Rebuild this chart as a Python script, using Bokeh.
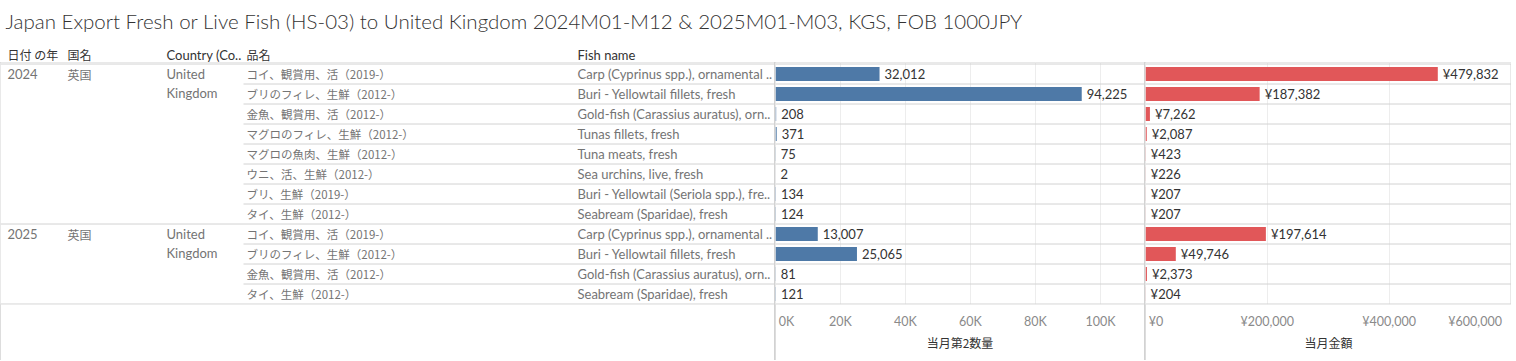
from bokeh.plotting import figure
from bokeh.layouts import row, column
from bokeh.models import Range1d, FixedTicker, ColumnDataSource
from bokeh.core.properties import value
from bokeh.embed import file_html
from bokeh.resources import INLINE

# ---------------- data ----------------
title_text = "Japan Export Fresh or Live Fish (HS-03) to United Kingdom 2024M01-M12 & 2025M01-M03, KGS, FOB 1000JPY"
header_labels = ["日付 の年", "国名", "Country (Co..", "品名", "Fish name"]
years = ["2024", "2025"]
group_sizes = [8, 4]
country_jp = "英国"
country_en = "United Kingdom"
items_jp = [
    "コイ、観賞用、活（2019-）",
    "ブリのフィレ、生鮮（2012-）",
    "金魚、観賞用、活（2012-）",
    "マグロのフィレ、生鮮（2012-）",
    "マグロの魚肉、生鮮（2012-）",
    "ウニ、活、生鮮（2012-）",
    "ブリ、生鮮（2019-）",
    "タイ、生鮮（2012-）",
    "コイ、観賞用、活（2019-）",
    "ブリのフィレ、生鮮（2012-）",
    "金魚、観賞用、活（2012-）",
    "タイ、生鮮（2012-）",
]
items_en = [
    "Carp (Cyprinus spp.), ornamental ..",
    "Buri - Yellowtail fillets, fresh",
    "Gold-fish (Carassius auratus), orn..",
    "Tunas fillets, fresh",
    "Tuna meats, fresh",
    "Sea urchins, live, fresh",
    "Buri - Yellowtail (Seriola spp.), fre..",
    "Seabream (Sparidae), fresh",
    "Carp (Cyprinus spp.), ornamental ..",
    "Buri - Yellowtail fillets, fresh",
    "Gold-fish (Carassius auratus), orn..",
    "Seabream (Sparidae), fresh",
]
quantity = [32012, 94225, 208, 371, 75, 2, 134, 124, 13007, 25065, 81, 121]
amount = [479832, 187382, 7262, 2087, 423, 226, 207, 207, 197614, 49746, 2373, 204]
qty_ticks = [0, 20000, 40000, 60000, 80000, 100000]
qty_tick_labels = ["0K", "20K", "40K", "60K", "80K", "100K"]
amt_ticks = [0, 200000, 400000, 600000]
amt_tick_labels = ["¥0", "¥200,000", "¥400,000", "¥600,000"]
qty_axis_title = "当月第2数量"
amt_axis_title = "当月金額"

# ---------------- styling / layout ----------------
LATIN = "Lato"
CJK = "Noto Sans CJK JP"
GRAY_TXT = "#747474"
DARK_TXT = "#333333"
LINE_C = "#d2d2d2"
GRID_C = "#ededed"
BLUE = "#4e79a7"
RED = "#e15759"

n = len(items_jp)
FRAME_H = 242
ROW_PX = 20.0
y_top = -1.5 / ROW_PX
y_bot = (FRAME_H - 1.5) / ROW_PX
BOTTOM = 56

centers = [i + 0.5 for i in range(n)]
bounds = [0]
for s in group_sizes:
    bounds.append(bounds[-1] + s)

NB = "\u00a0"


def base_fig(w, xr, with_axis=False):
    p = figure(width=w, frame_height=FRAME_H, x_range=xr,
               y_range=Range1d(y_bot, y_top),
               output_backend="svg", toolbar_location=None, title=None,
               x_axis_location="below" if with_axis else None,
               y_axis_location=None,
               min_border_left=0, min_border_right=0, min_border_top=0,
               min_border_bottom=BOTTOM)
    p.outline_line_color = None
    p.ygrid.grid_line_color = None
    if not with_axis:
        p.xgrid.grid_line_color = None
    p.background_fill_color = "#ffffff"
    p.border_fill_color = "#ffffff"
    return p


# ---------- title + headers ----------
TBL_W = 774
QTY_W = 369
AMT_W = 366
TW = TBL_W + QTY_W + AMT_W + 2
TH = 62
tp = figure(width=TW, height=TH, x_range=Range1d(0, TW), y_range=Range1d(TH, 0),
            output_backend="svg", toolbar_location=None, title=None,
            x_axis_location=None, y_axis_location=None,
            min_border=0)
tp.outline_line_color = None
tp.xgrid.grid_line_color = None
tp.ygrid.grid_line_color = None
tp.text(x=[5], y=[20], text=[title_text], text_font=value("Lato Light"),
        text_font_size="20.5px", text_color="#333333",
        text_baseline="middle", text_align="left")
hx = [7, 67, 166, 246, 577]
hfonts = [CJK, CJK, LATIN, CJK, LATIN]
for x, lab, f in zip(hx, header_labels, hfonts):
    tp.text(x=[x], y=[54], text=[lab], text_font=value(f),
            text_font_size="13px" if f == LATIN else "12px",
            text_color=DARK_TXT, text_baseline="middle", text_align="left")

# ---------- table ----------
tb = base_fig(TBL_W, Range1d(0, TBL_W))
for g, yr in enumerate(years):
    y0 = bounds[g] + 0.5
    tb.text(x=[7], y=[y0], text=[yr], text_font=value(LATIN), text_font_size="13px",
            text_color=GRAY_TXT, text_baseline="middle")
    tb.text(x=[67], y=[y0], text=[country_jp], text_font=value(CJK), text_font_size="12px",
            text_color=GRAY_TXT, text_baseline="middle")
    for j, word in enumerate(country_en.split(" ")):
        tb.text(x=[166], y=[y0 + 0.95 * j], text=[word], text_font=value(LATIN),
                text_font_size="13px", text_color=GRAY_TXT, text_baseline="middle")
tb.text(x=246, y=centers, text=items_jp, text_font=value(CJK), text_font_size="11.5px",
        text_color=GRAY_TXT, text_baseline="middle")
tb.text(x=577, y=centers, text=items_en, text_font=value(LATIN), text_font_size="13px",
        text_color=GRAY_TXT, text_baseline="middle")
ks = list(range(n + 1))
tb.segment(x0=[0 if k in bounds else 243 for k in ks], x1=[TBL_W] * len(ks),
           y0=ks, y1=ks, line_color=LINE_C, line_width=1)


# ---------- bar panels ----------
def bar_panel(w, xmax, vals, labels, color, ticks, tick_labels, grid_ticks, axis_title, right_border=False):
    p = base_fig(w, Range1d(0, xmax), with_axis=True)
    p.xgrid.ticker = FixedTicker(ticks=grid_ticks)
    p.xgrid.grid_line_color = GRID_C
    src = ColumnDataSource(dict(y=centers, v=vals, lab=labels))
    p.hbar(y="y", left=0, right="v", height=0.7, source=src, color=color, line_color=None)
    p.text(x="v", y="y", text="lab", source=src, x_offset=5, text_font=value(LATIN),
           text_font_size="13px", text_color=DARK_TXT, text_baseline="middle", text_align="left")
    p.segment(x0=[0] * len(ks), x1=[xmax] * len(ks), y0=ks, y1=ks, line_color=LINE_C, line_width=1)
    if right_border:
        p.segment(x0=[ticks[-1]], x1=[ticks[-1]], y0=[0], y1=[n], line_color=LINE_C, line_width=1)
    ax = p.xaxis[0]
    ax.ticker = FixedTicker(ticks=ticks)
    ax.major_label_overrides = {t: l for t, l in zip(ticks, tick_labels)}
    ax.axis_line_color = None
    ax.major_tick_line_color = None
    ax.minor_tick_line_color = None
    ax.major_tick_out = 0
    ax.major_tick_in = 0
    ax.minor_tick_out = 0
    ax.major_label_standoff = 9
    ax.major_label_text_font = LATIN
    ax.major_label_text_font_size = "12.5px"
    ax.major_label_text_color = "#8a8a8a"
    ax.axis_label = axis_title
    ax.axis_label_standoff = 2
    ax.axis_label_text_font = CJK
    ax.axis_label_text_font_size = "12px"
    ax.axis_label_text_font_style = "normal"
    ax.axis_label_text_color = DARK_TXT
    return p


qty_max = QTY_W / 3.25 * 1000
q_labels_ticks = list(qty_tick_labels)
q_labels_ticks[0] = NB + q_labels_ticks[0]
qp = bar_panel(QTY_W, qty_max, quantity, [f"{v:,}" for v in quantity], BLUE,
               qty_ticks, q_labels_ticks, qty_ticks[1:], qty_axis_title)

amt_max = amt_ticks[-1] * AMT_W / (AMT_W - 0.5)
a_labels_ticks = list(amt_tick_labels)
a_labels_ticks[0] = NB + a_labels_ticks[0]
a_labels_ticks[-1] = a_labels_ticks[-1] + NB * 3
ap = bar_panel(AMT_W, amt_max, amount, [f"¥{v:,}" for v in amount], RED,
               amt_ticks, a_labels_ticks, amt_ticks[1:-1], amt_axis_title, right_border=True)

body = row(tb, qp, ap, spacing=1, styles={"background-color": LINE_C})
layout = column(tp, body)

open("out.html", "w").write(file_html(layout, INLINE))
